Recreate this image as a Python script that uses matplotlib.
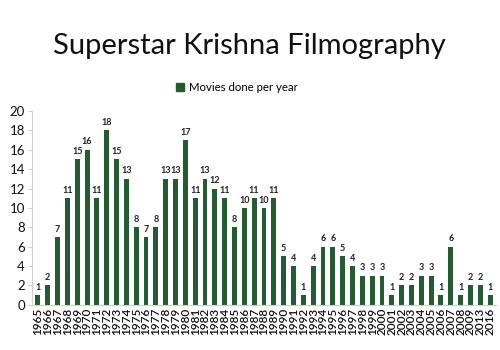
import matplotlib
matplotlib.use("Agg")
import matplotlib.pyplot as plt
from matplotlib.patches import Patch

years = ["1965","1966","1967","1968","1969","1970","1971","1972","1973","1974",
         "1975","1976","1977","1978","1979","1980","1981","1982","1983","1984",
         "1985","1986","1987","1988","1989","1990","1991","1992","1993","1994",
         "1995","1996","1997","1998","1999","2000","2001","2002","2003","2004",
         "2005","2006","2007","2008","2009","2013","2016"]
movies = [1,2,7,11,15,16,11,18,15,13,
          8,7,8,13,13,17,11,13,12,11,
          8,10,11,10,11,5,4,1,4,6,
          6,5,4,3,3,3,1,2,2,3,
          3,1,6,1,2,2,1]

plt.rcParams['font.family'] = ['Lato', 'DejaVu Sans']
color = '#235C30'

fig = plt.figure(figsize=(5, 3.5), dpi=100)
ax = fig.add_axes([0.064, 0.129, 0.928, 0.554])
x = list(range(len(years)))
bars = ax.bar(x, movies, width=0.5, color=color)
for xi, v in zip(x, movies):
    ax.text(xi, v + 0.35, str(v), ha='center', va='bottom', fontsize=6.5, fontweight='bold', color='#222222')

ax.set_ylim(0, 20)
ax.set_yticks(range(0, 21, 2))
ax.set_xlim(-0.6, len(years) - 0.4)
ax.set_xticks(x)
ax.set_xticklabels(years, rotation=90, fontsize=8.5, fontweight='semibold')
ax.tick_params(axis='x', length=0, pad=2, colors='#111111')
ax.tick_params(axis='y', labelsize=9.5, length=3, color='#d0d0d0', pad=2, labelcolor='#111111')
for s in ['top', 'right']:
    ax.spines[s].set_visible(False)
ax.spines['left'].set_color('#d0d0d0')
ax.spines['bottom'].set_color('#d0d0d0')

fig.text(0.498, 0.868, "Superstar Krishna Filmography", ha='center', va='center', fontsize=21, color='#111111')
fig.legend(handles=[Patch(color=color, label='Movies done per year')], loc='center',
           bbox_to_anchor=(0.474, 0.75), frameon=False, fontsize=8.2,
           handlelength=0.7, handleheight=0.7, handletextpad=0.4)

fig.savefig("out.png", dpi=100)
